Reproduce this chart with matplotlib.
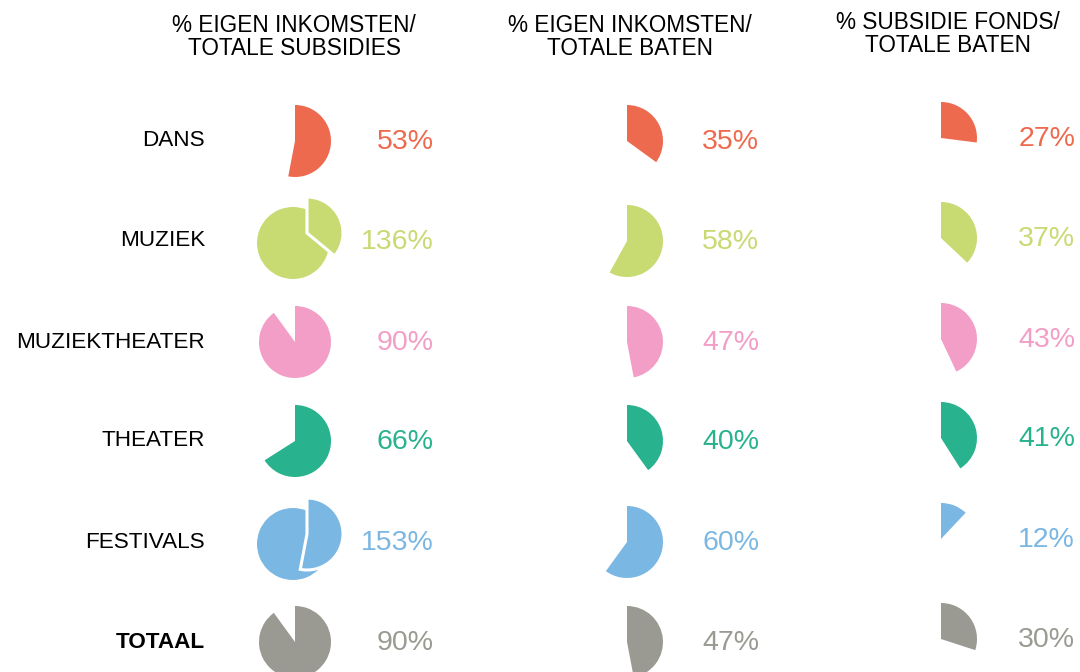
import matplotlib.pyplot as plt

# --- data ---
rows = ["DANS", "MUZIEK", "MUZIEKTHEATER", "THEATER", "FESTIVALS", "TOTAAL"]
colors = ["#EE6A4F", "#C8DA72", "#F29EC6", "#28B28E", "#7BB7E3", "#9A9A92"]

titles = [
    "% EIGEN INKOMSTEN/\nTOTALE SUBSIDIES",
    "% EIGEN INKOMSTEN/\nTOTALE BATEN",
    "% SUBSIDIE FONDS/\nTOTALE BATEN",
]

# percentages per column (same order as rows)
eigen_subsidies = [53, 136, 90, 66, 153, 90]
eigen_baten = [35, 58, 47, 40, 60, 47]
fonds_baten = [27, 37, 43, 41, 12, 30]
columns = [eigen_subsidies, eigen_baten, fonds_baten]

# --- layout (pixel units, y from the top) ---
W, H = 1080, 672
row_y = [141, 241, 342, 441, 542, 642]
col3_shift = -3          # third column sits a bit higher
pie_x = [295, 627, 941]
text_right = [434, 759, 1075]
title_x = [294, 630, 948]
R = 36
extra_offset = (14, -10)  # shift of the part above 100%

fig = plt.figure(figsize=(W / 100, H / 100), dpi=100)
ax = fig.add_axes([0, 0, 1, 1])

# y axis runs downwards, so start at -90 and go "counterclockwise"
# in data space, which shows up clockwise from 12 o'clock
pie_kw = dict(radius=R, startangle=-90, counterclock=True, normalize=False)

for c, values in enumerate(columns):
    for r, val in enumerate(values):
        cy = row_y[r] + (col3_shift if c == 2 else 0)
        cx = pie_x[c]
        col = colors[r]
        frac = val / 100
        if frac <= 1:
            ax.pie([frac], center=(cx, cy), colors=[col], **pie_kw)
        else:
            ax.pie([1.0], center=(cx - 2, cy + 2), colors=[col], **pie_kw)
            ax.pie([frac - 1], center=(cx - 2 + extra_offset[0], cy + 2 + extra_offset[1]),
                   colors=[col], wedgeprops=dict(edgecolor="white", linewidth=2.2),
                   **pie_kw)
        ax.text(text_right[c], cy + 1, f"{val}%", color=col, fontsize=20.5,
                family="Liberation Sans", ha="right", va="center")

for r, name in enumerate(rows):
    ax.text(205, row_y[r], name, fontsize=16.2, family="Liberation Sans",
            fontweight="bold" if name == "TOTAAL" else "normal",
            ha="right", va="center", color="black")

for c, t in enumerate(titles):
    ax.text(title_x[c], 37 + (col3_shift if c == 2 else 0), t, fontsize=16.3,
            family="Liberation Sans", ha="center", va="center",
            linespacing=1.05, color="black")

ax.set_xlim(0, W)
ax.set_ylim(H, 0)
ax.set_aspect("equal")
ax.axis("off")

fig.savefig("out.png", dpi=100)
